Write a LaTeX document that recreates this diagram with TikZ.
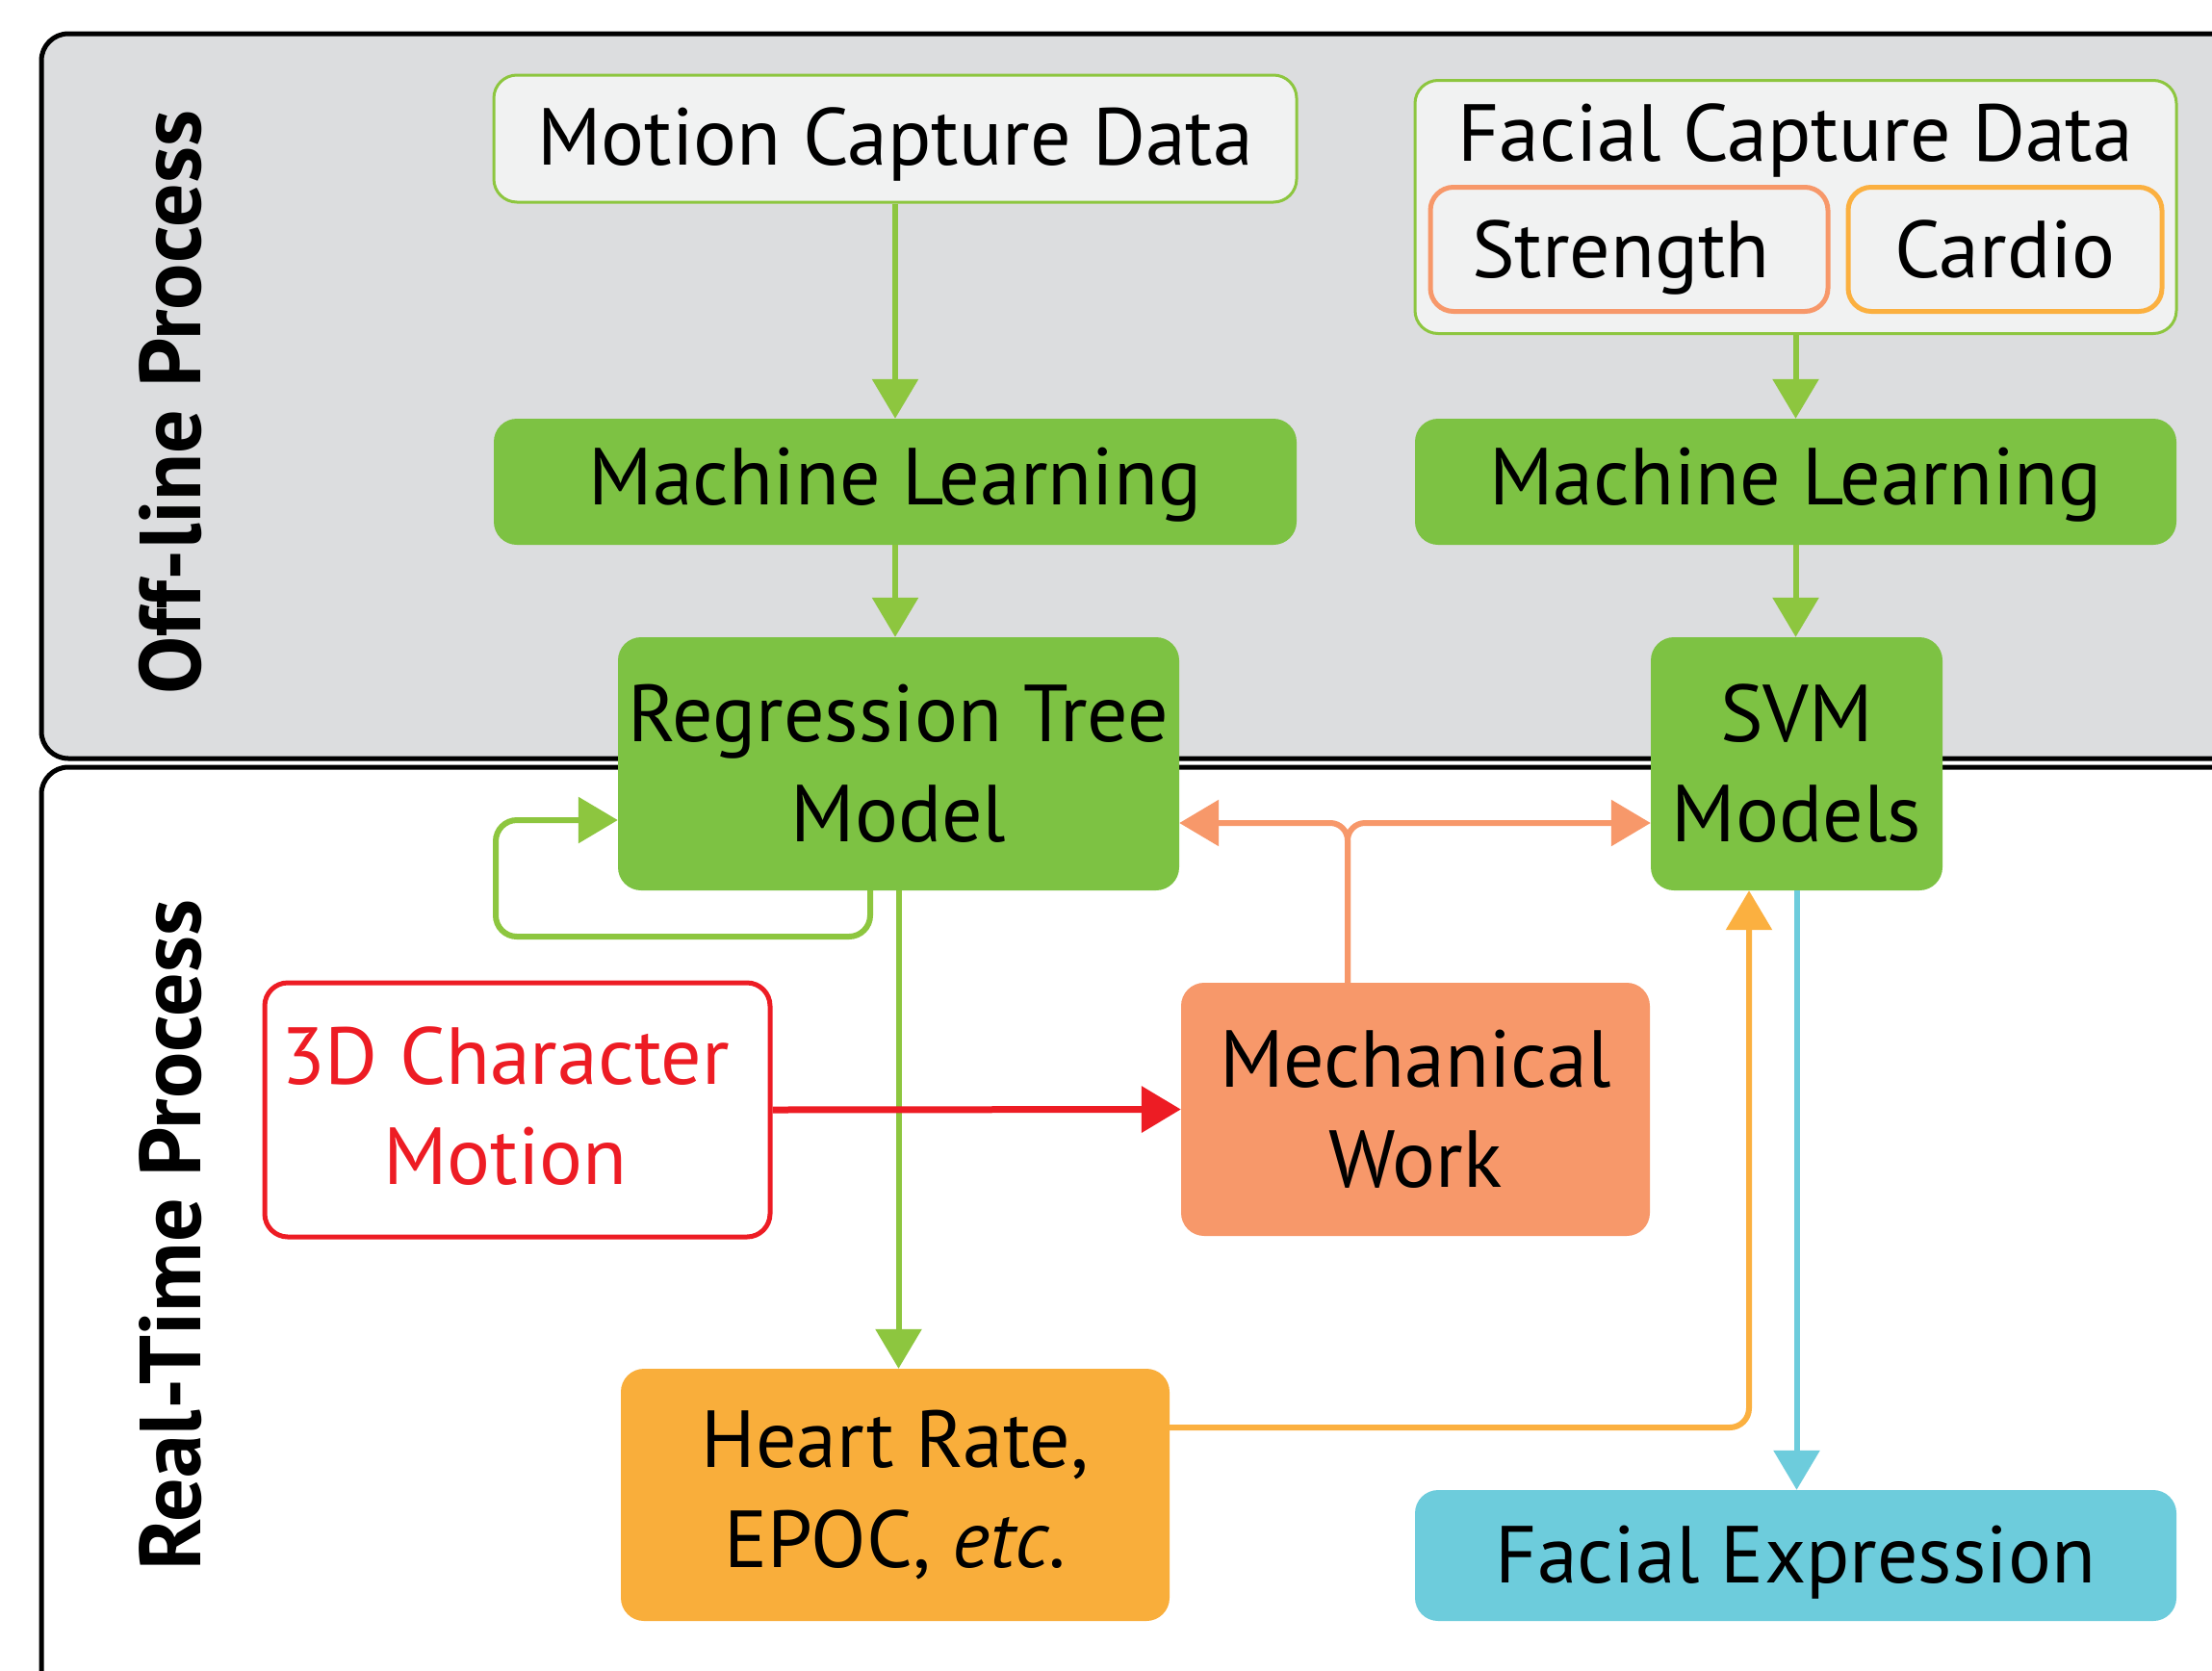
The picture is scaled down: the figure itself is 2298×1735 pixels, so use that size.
\documentclass[tikz,border=0pt]{standalone}
\usepackage{fontspec}
\setmainfont{PT Sans}
\usetikzlibrary{arrows.meta,calc}
\definecolor{panelgray}{HTML}{DCDDDF}
\definecolor{lightbox}{HTML}{F1F2F2}
\definecolor{gfill}{HTML}{7DC243}
\definecolor{glinec}{HTML}{8DC63F}
\definecolor{salmon}{HTML}{F7986A}
\definecolor{orng}{HTML}{FBB040}
\definecolor{hrfill}{HTML}{F9AE3B}
\definecolor{redc}{HTML}{ED1C24}
\definecolor{cyanc}{HTML}{6DCCDC}
\begin{document}
\begin{tikzpicture}[x=1pt,y=-1pt,
  lbl/.style={font=\fontsize{84}{104}\selectfont, align=center, inner sep=0pt, text=black},
  oneline/.style={text height=#1, text depth=0pt},
  boxr/.style={rounded corners=24pt},
  sidelbl/.style={rotate=90, anchor=base, font=\fontsize{90}{90}\selectfont\bfseries},
  tipA/.style={-{Triangle[length=41pt,width=47pt]}},
  garr/.style={tipA, draw=glinec, line width=6pt},
  oarr/.style={tipA, draw=salmon, line width=6pt},
  yarr/.style={tipA, draw=orng, line width=6pt},
  rarr/.style={tipA, draw=redc, line width=7pt},
  carr/.style={tipA, draw=cyanc, line width=6pt}]
\useasboundingbox (0,0) rectangle (2298,1735);
\clip (0,0) rectangle (2298,1735);
% panels
\draw[line width=5pt, fill=panelgray, rounded corners=28pt] (43,35) rectangle (2400,788);
\draw[line width=5pt, fill=white, rounded corners=28pt] (43,797) rectangle (2400,1900);
\node[sidelbl] (offl) at (208,418) {Off-line Process};
\node[sidelbl] (realt) at (208,1283) {Real-Time Process};
% offline nodes
\node[lbl, oneline=54pt, boxr, fill=lightbox, draw=glinec, line width=3pt, minimum width=834pt, minimum height=132pt] (mcd) at (930,144) {Motion Capture Data};
\node[lbl, oneline=48pt, boxr, fill=gfill, minimum width=834pt, minimum height=131pt] (ml1) at (930,500.5) {Machine Learning};
\node[lbl, boxr, fill=lightbox, draw=glinec, line width=3pt, minimum width=791pt, minimum height=263pt] (fcd) at (1865.5,215) {};
\node[lbl, anchor=base] (fcdt) at (1865,167) {Facial Capture Data};
\node[lbl, boxr, fill=lightbox, draw=salmon, line width=5pt, minimum width=413pt, minimum height=129pt] (str) at (1692.5,259) {};
\node[lbl, anchor=base] (strt) at (1684,288.5) {Strength};
\node[lbl, oneline=59pt, boxr, fill=lightbox, draw=orng, line width=5pt, minimum width=326pt, minimum height=129pt] (car) at (2083,259) {Cardio};
\node[lbl, oneline=48pt, boxr, fill=gfill, minimum width=791pt, minimum height=131pt] (ml2) at (1865.5,500.5) {Machine Learning};
\node[lbl, boxr, fill=gfill, minimum width=583pt, minimum height=263pt] (reg) at (933.5,793.5) {Regression Tree\\Model};
\node[lbl, boxr, fill=gfill, minimum width=303pt, minimum height=263pt] (svm) at (1866.5,793.5) {SVM\\Models};
% real-time nodes
\node[boxr, fill=white, draw=redc, line width=5pt, minimum width=525pt, minimum height=264pt] (char) at (537.5,1153) {};
\node[lbl, text=redc] (chart) at (525,1149) {3D Character\\Motion};
\node[lbl, boxr, fill=salmon, minimum width=487pt, minimum height=263pt] (mech) at (1470.5,1152.5) {Mechanical\\Work};
\node[lbl, boxr, fill=hrfill, minimum width=570pt, minimum height=262pt] (heart) at (930,1553) {Heart Rate,\\EPOC, \textit{etc.}};
\node[lbl, oneline=56pt, boxr, fill=cyanc, minimum width=791pt, minimum height=136pt] (fe) at (1865.5,1616) {Facial Expression};
% connectors
\draw[garr] (mcd.south) -- (mcd.south |- ml1.north);
\draw[garr] (ml1.south) -- (ml1.south |- reg.north);
\draw[garr] (fcd.south) -- (fcd.south |- ml2.north);
\draw[garr] (ml2.south) -- (ml2.south |- svm.north);
\draw[garr, rounded corners=22pt] ([xshift=-29.5pt]reg.south) |- (515,973) |- ([yshift=-58.5pt]reg.west);
\draw[garr] (reg.south) -- (reg.south |- heart.north);
\draw[rarr] (char.east) -- (mech.west);
\draw[oarr, rounded corners=18pt] ([xshift=-70.5pt]mech.north) |- ([yshift=-61.5pt]reg.east);
\draw[oarr, rounded corners=18pt] ([xshift=-70.5pt]mech.north) |- ([yshift=-61.5pt]svm.west);
\draw[yarr, rounded corners=20pt] ([yshift=70pt]heart.east) -| ([xshift=-49.5pt]svm.south);
\draw[carr] (svm.south) -- (svm.south |- fe.north);
\end{tikzpicture}
\end{document}
